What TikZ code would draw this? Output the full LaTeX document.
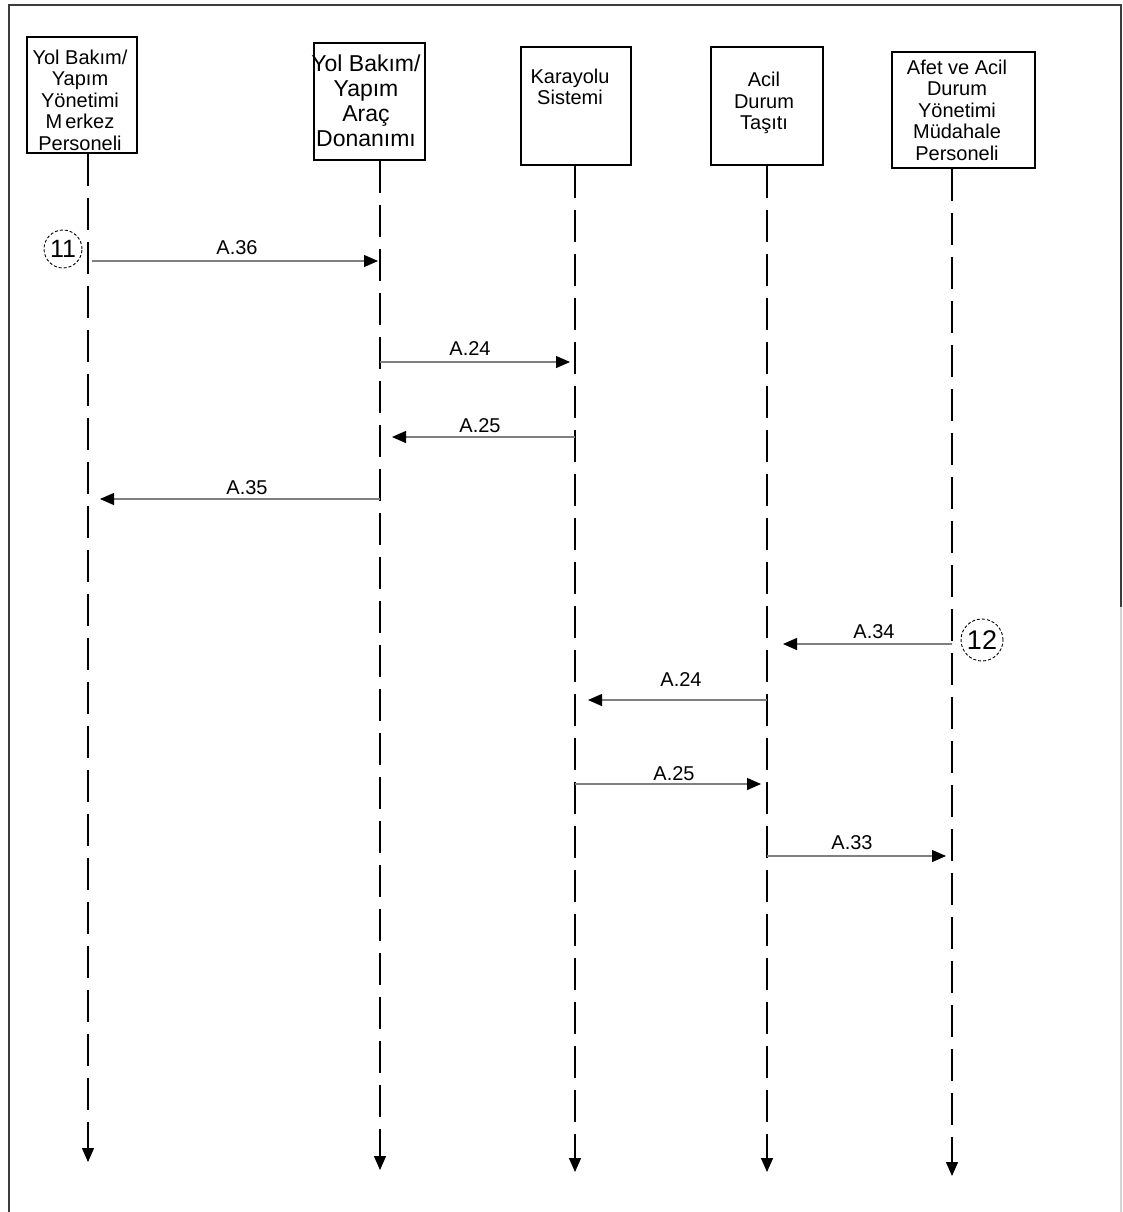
\documentclass[tikz,border=0pt]{standalone}
\usepackage{fontspec}
\setmainfont{Liberation Sans}
\usetikzlibrary{arrows.meta}
\definecolor{framegray}{HTML}{3C3C3C}
\definecolor{msgline}{HTML}{7F7F7F}
\definecolor{faintgray}{HTML}{D4D4D4}

\begin{document}
\begin{tikzpicture}[x=1pt,y=-1pt,
  actor/.style={draw=black,line width=1.4pt,inner sep=0pt},
  actortext/.style={align=center,inner sep=0pt,font=\fontsize{20}{21.5}\selectfont},
  lifeline/.style={line width=1.3pt,dash pattern=on 32pt off 12pt,-{Triangle[length=14pt,width=12pt]}},
  msg/.style={draw=msgline,line width=1.2pt,-{Triangle[length=14pt,width=12pt,color=black]}},
  msglabel/.style={inner sep=0pt,font=\fontsize{20}{24}\selectfont},
  marker/.style={circle,draw,dash pattern=on 3pt off 2pt,line width=0.9pt,inner sep=0pt}
]
\useasboundingbox (0,0) rectangle (1123,1212);

% page frame
\draw[framegray,line width=2pt] (9,1212) -- (9,5) -- (1121,5) -- (1121,607);
\draw[faintgray,line width=1.5pt] (1121,607) -- (1121,1212);

% participants
\node[actor,minimum width=110pt,minimum height=116pt] (b1) at (82,95) {};
\node[actor,minimum width=111pt,minimum height=117pt] (b2) at (369.5,101.5) {};
\node[actor,minimum width=110pt,minimum height=118pt] (b3) at (576,106) {};
\node[actor,minimum width=112pt,minimum height=118pt] (b4) at (767,106) {};
\node[actor,minimum width=143pt,minimum height=116pt] (b5) at (963.5,110) {};

\node[actortext] (t1) at (80,100) {Yol Bakım/\\Yapım\\Yönetimi\\M\kern3pt erkez\\Personeli};
\node[actortext,font=\fontsize{23}{25}\selectfont] (t2) at (366,101) {Yol Bakım/\\Yapım\\Araç\\Donanımı};
\node[actortext] (t3) at (570,87) {Karayolu\\Sistemi};
\node[actortext] (t4) at (764,103) {Acil\\Durum\\Taşıtı};
\node[actortext] (t5) at (957,110) {Afet ve Acil\\Durum\\Yönetimi\\Müdahale\\Personeli};

% lifelines
\coordinate (L1) at (88,1162);
\coordinate (L2) at (380,1170);
\coordinate (L3) at (575,1172);
\coordinate (L4) at (767,1172);
\coordinate (L5) at (952,1176);
\draw[lifeline] (b1.south -| L1) -- (L1);
\draw[lifeline] (b2.south -| L2) -- (L2);
\draw[lifeline] (b3.south -| L3) -- (L3);
\draw[lifeline] (b4.south -| L4) -- (L4);
\draw[lifeline] (b5.south -| L5) -- (L5);

% scenario markers
\node[marker,minimum size=38pt,font=\fontsize{25}{27}\selectfont] (c11) at (63,249) {11};
\node[marker,minimum size=42pt,font=\fontsize{27}{29}\selectfont] (c12) at (982,640) {12};

% message endpoints
\coordinate (m1s) at (92,261);  \coordinate (m1e) at (378,261);
\coordinate (m2s) at (380,362); \coordinate (m2e) at (570,362);
\coordinate (m3s) at (575,437); \coordinate (m3e) at (392,437);
\coordinate (m4s) at (380,499); \coordinate (m4e) at (100,499);
\coordinate (m5s) at (952,644); \coordinate (m5e) at (783,644);
\coordinate (m6s) at (767,700); \coordinate (m6e) at (588,700);
\coordinate (m7s) at (575,784); \coordinate (m7e) at (761,784);
\coordinate (m8s) at (767,856); \coordinate (m8e) at (946,856);

% messages
\draw[msg] (m1s) -- (m1e);
\draw[msg] (m2s) -- (m2e);
\draw[msg] (m3s) -- (m3e);
\draw[msg] (m4s) -- (m4e);
\draw[msg] (m5s) -- (m5e);
\draw[msg] (m6s) -- (m6e);
\draw[msg] (m7s) -- (m7e);
\draw[msg] (m8s) -- (m8e);

% message labels
\node[msglabel] (l1) at (237,248) {A.36};
\node[msglabel] (l2) at (470,349) {A.24};
\node[msglabel] (l3) at (480,426) {A.25};
\node[msglabel] (l4) at (247,488) {A.35};
\node[msglabel] (l5) at (874,632) {A.34};
\node[msglabel] (l6) at (681,680) {A.24};
\node[msglabel] (l7) at (674,774) {A.25};
\node[msglabel] (l8) at (852,843) {A.33};
\end{tikzpicture}
\end{document}
